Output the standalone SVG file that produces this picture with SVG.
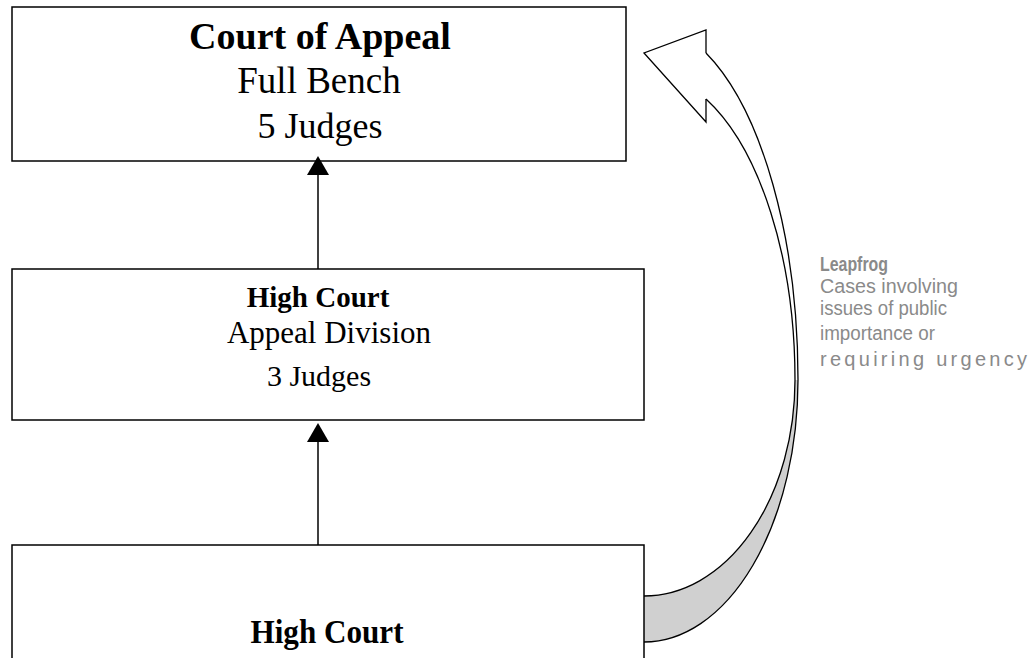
<svg xmlns="http://www.w3.org/2000/svg" width="1029" height="658" viewBox="0 0 1029 658">
<style>
.box{fill:#fff;stroke:#000;stroke-width:1.5}
.serif{font-family:"Liberation Serif","Times New Roman",serif;fill:#000;text-anchor:middle}
.b{font-weight:bold}
.side{font-family:"Liberation Sans",Arial,sans-serif;fill:#8a8a8a;font-size:20px}
.conn{stroke:#000;stroke-width:1.5;fill:none}
.arc{stroke:#000;stroke-width:1.3;fill:none}
</style>
<rect width="1029" height="658" fill="#fff"/>
<g id="leapfrog-arrow">
<path d="M644,596 A151,216 0 0 0 795,380 L798,380 A154,262 0 0 1 644,642 Z" fill="#d0d0d0"/>
<path d="M644,53 L706,30 L706,53 A154,357 0 0 1 798,380 L795,380 A151,308 0 0 0 706,99 L706,122 Z" fill="#fff"/>
<path class="arc" d="M706,53 L706,30 L644,53 L706,122 L706,99"/>
<path class="arc" d="M706,53 A154,357 0 0 1 798,380 A154,262 0 0 1 644,642"/>
<path class="arc" d="M706,99 A151,308 0 0 1 795,380 A151,216 0 0 1 644,596"/>
</g>
<g id="court-of-appeal">
<rect class="box" x="12" y="7" width="614" height="154"/>
<text class="serif b" x="320" y="49" font-size="38">Court of Appeal</text>
<text class="serif" x="319" y="93" font-size="37">Full Bench</text>
<text class="serif" x="320" y="138" font-size="36">5 Judges</text>
</g>
<g id="high-court-appeal">
<rect class="box" x="12" y="269" width="632" height="151"/>
<text class="serif b" x="318" y="307" font-size="29">High Court</text>
<text class="serif" x="329" y="343" font-size="31">Appeal Division</text>
<text class="serif" x="319" y="386" font-size="30">3 Judges</text>
</g>
<g id="high-court">
<rect class="box" x="12" y="545" width="632" height="120"/>
<text class="serif b" x="327" y="643" font-size="34" textLength="153" lengthAdjust="spacingAndGlyphs">High Court</text>
</g>
<g id="connectors">
<line class="conn" x1="318" y1="269" x2="318" y2="172"/>
<polygon points="318,156 307,175 329,175" fill="#000"/>
<line class="conn" x1="318" y1="545" x2="318" y2="440"/>
<polygon points="318,423 307,442 329,442" fill="#000"/>
</g>
<g id="leapfrog-label">
<text class="side" x="820" y="271" font-weight="bold" font-size="18" textLength="68" lengthAdjust="spacingAndGlyphs">Leapfrog</text>
<text class="side" x="820" y="293" textLength="138" lengthAdjust="spacingAndGlyphs">Cases involving</text>
<text class="side" x="820" y="315" textLength="127" lengthAdjust="spacingAndGlyphs">issues of public</text>
<text class="side" x="820" y="340" textLength="115" lengthAdjust="spacingAndGlyphs">importance or</text>
<text class="side" x="820" y="366" textLength="207" lengthAdjust="spacing">requiring urgency</text>
</g>
</svg>
